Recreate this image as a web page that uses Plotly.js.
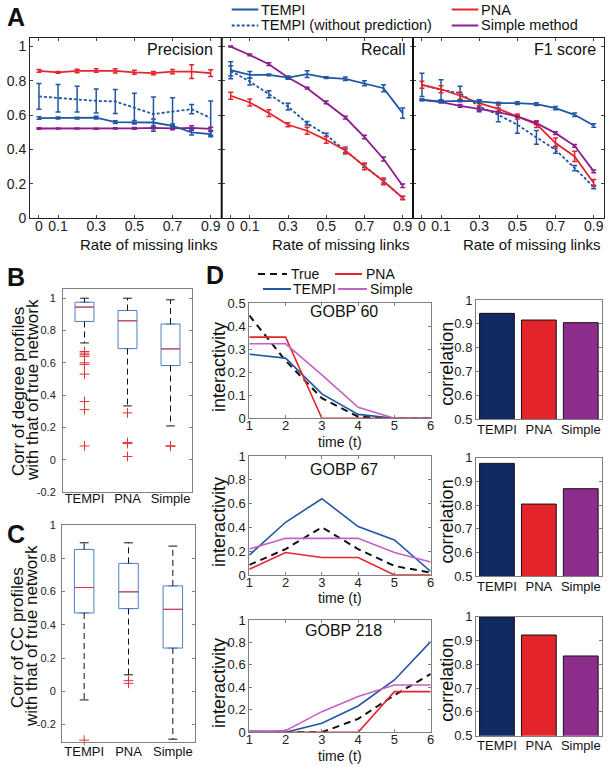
<!DOCTYPE html>
<html>
<head>
<meta charset="utf-8">
<script src="https://cdn.plot.ly/plotly-3.0.1.min.js"></script>
<style>html,body{margin:0;padding:0;background:#fff;}#chart{width:608px;height:767px;}</style>
</head>
<body>
<div id="chart"></div>
<script>
// ---------------- DATA ----------------
const rates = [0, 0.1, 0.2, 0.3, 0.4, 0.5, 0.6, 0.7, 0.8, 0.9];
const rateTickVals = [0, 0.1, 0.3, 0.5, 0.7, 0.9];
const rateTickText = ['0', '0.1', '0.3', '0.5', '0.7', '0.9'];

const precTEMPI = [0.583, 0.583, 0.583, 0.586, 0.559, 0.559, 0.557, 0.538, 0.499, 0.489];
const precTEMPIerr = [0.007, 0.006, 0.005, 0.008, 0.008, 0.01, 0.02, 0.01, 0.015, 0.015];
const precNoPred = [0.709, 0.699, 0.693, 0.683, 0.680, 0.641, 0.606, 0.621, 0.635, 0.583];
const precNoPredErr = [0.075, 0.08, 0.075, 0.07, 0.07, 0.087, 0.1, 0.08, 0.027, 0.1];
const precPNA = [0.858, 0.849, 0.858, 0.860, 0.858, 0.850, 0.845, 0.854, 0.854, 0.845];
const precPNAerr = [0.008, 0.005, 0.01, 0.01, 0.012, 0.012, 0.01, 0.012, 0.04, 0.02];
const precSimple = [0.522, 0.522, 0.522, 0.520, 0.523, 0.523, 0.526, 0.523, 0.526, 0.520];
const precSimpleErr = [0.004, 0.003, 0.003, 0.003, 0.004, 0.005, 0.006, 0.008, 0.012, 0.01];

const recTEMPI = [0.862, 0.835, 0.835, 0.819, 0.839, 0.819, 0.812, 0.786, 0.757, 0.612];
const recTEMPIerr = [0.05, 0.02, 0.005, 0.01, 0.02, 0.005, 0.01, 0.015, 0.02, 0.03];
const recNoPred = [0.858, 0.796, 0.722, 0.650, 0.553, 0.485, 0.392, 0.305, 0.214, 0.117];
const recNoPredErr = [0.03, 0.02, 0.02, 0.02, 0.01, 0.01, 0.01, 0.01, 0.01, 0.008];
const recPNA = [0.713, 0.674, 0.612, 0.544, 0.509, 0.456, 0.394, 0.301, 0.214, 0.117];
const recPNAerr = [0.02, 0.02, 0.02, 0.012, 0.02, 0.02, 0.02, 0.02, 0.02, 0.01];
const recSimple = [1.0, 0.951, 0.897, 0.819, 0.757, 0.674, 0.586, 0.472, 0.344, 0.188];
const recSimpleErr = [0.003, 0.005, 0.008, 0.005, 0.005, 0.008, 0.008, 0.01, 0.012, 0.01];

const f1TEMPI = [0.689, 0.680, 0.683, 0.680, 0.670, 0.670, 0.664, 0.641, 0.602, 0.540];
const f1TEMPIerr = [0.005, 0.005, 0.005, 0.01, 0.005, 0.008, 0.008, 0.01, 0.01, 0.01];
const f1NoPred = [0.777, 0.748, 0.728, 0.650, 0.602, 0.544, 0.470, 0.398, 0.291, 0.181];
const f1NoPredErr = [0.068, 0.058, 0.04, 0.03, 0.04, 0.05, 0.04, 0.02, 0.015, 0.01];
const f1PNA = [0.777, 0.751, 0.713, 0.670, 0.637, 0.592, 0.548, 0.437, 0.359, 0.204];
const f1PNAerr = [0.02, 0.02, 0.02, 0.015, 0.02, 0.015, 0.02, 0.03, 0.03, 0.02];
const f1Simple = [0.689, 0.676, 0.654, 0.637, 0.617, 0.592, 0.553, 0.495, 0.421, 0.272];
const f1SimpleErr = [0.003, 0.005, 0.008, 0.008, 0.005, 0.005, 0.008, 0.008, 0.008, 0.008];

const boxCats = ['TEMPI', 'PNA', 'Simple'];
const degQ1 = [0.856, 0.688, 0.583];
const degMed = [0.945, 0.860, 0.686];
const degQ3 = [0.975, 0.924, 0.840];
const degLo = [0.723, 0.333, 0.209];
const degHi = [1.0, 1.0, 0.99];
const degOutTEMPI = [0.67, 0.66, 0.65, 0.64, 0.60, 0.59, 0.53, 0.36, 0.31, 0.085];
const degOutPNA = [0.29, 0.107, 0.10, 0.02];
const degOutSimple = [0.086, 0.083];

const ccQ1 = [0.471, 0.497, 0.260];
const ccMed = [0.624, 0.598, 0.493];
const ccQ3 = [0.853, 0.769, 0.634];
const ccLo = [-0.052, 0.099, -0.288];
const ccHi = [0.893, 0.893, 0.873];
const ccOutTEMPI = [-0.294];
const ccOutPNA = [0.064, 0.048];
const ccOutSimple = [];

const time = [1, 2, 3, 4, 5, 6];
const g60True = [0.446, 0.25, 0.087, 0.007, 0, 0];
const g60TEMPI = [0.278, 0.261, 0.106, 0.017, 0, 0];
const g60PNA = [0.352, 0.352, 0, 0, 0, 0];
const g60Simple = [0.323, 0.323, 0.188, 0.048, 0, 0];
const g67True = [0.085, 0.218, 0.401, 0.218, 0.076, 0.02];
const g67TEMPI = [0.167, 0.443, 0.641, 0.407, 0.294, 0.03];
const g67PNA = [0.048, 0.189, 0.147, 0.147, 0, 0];
const g67Simple = [0.218, 0.308, 0.308, 0.308, 0.189, 0.11];
const g218True = [0, 0, 0, 0.12, 0.33, 0.52];
const g218TEMPI = [0.012, 0, 0.08, 0.234, 0.466, 0.807];
const g218PNA = [0, 0, 0, 0, 0.362, 0.362];
const g218Simple = [0.006, 0.015, 0.184, 0.318, 0.421, 0.421];

const barCats = ['TEMPI', 'PNA', 'Simple'];
const corr60 = [0.944, 0.916, 0.905];
const corr67 = [0.976, 0.804, 0.869];
const corr218 = [0.999, 0.923, 0.835];

// ---------------- STYLE ----------------
const W = 608, H = 767;
const FONT = 'Liberation Sans, Arial, Helvetica, sans-serif';
const cBlue = '#1f57a4', cRed = '#e5262d', cPurple = '#8b1d8c', cOrchid = '#c462c4';
const cNavy = '#102a62', cBarRed = '#e3252b', cBarPurple = '#8c2c8b';
const cBox = '#4f7fc0', cOut = '#e0343a';
const dX = (l, r) => [l / W, r / W];
const dY = (t, b) => [1 - b / H, 1 - t / H];
const py = p => 1 - p / H;
const px = p => p / W;

const baseAx = {
  showline: true, mirror: 'ticks', linecolor: '#808080', linewidth: 1,
  ticks: 'inside', ticklen: 3, tickcolor: '#808080', zeroline: false, showgrid: false,
  tickfont: {size: 13, color: '#222', family: FONT}, fixedrange: true
};
const ax = o => Object.assign({}, baseAx, o);

const traces = [];

// ---- Panel A ----
function addMetric(xa, ya, tempi, tempiE, nopred, nopredE, pna, pnaE, simple, simpleE) {
  const mk = (y, e, color, dash) => ({
    type: 'scatter', mode: 'lines', x: rates, y: y, xaxis: xa, yaxis: ya,
    line: {color: color, width: 1.8, dash: dash},
    error_y: {type: 'data', array: e, visible: true, color: color, thickness: 1.5, width: 2.5},
    hoverinfo: 'skip'
  });
  traces.push(mk(nopred, nopredE, cBlue, '3px,2px'));
  traces.push(mk(pna, pnaE, cRed, 'solid'));
  traces.push(mk(simple, simpleE, cPurple, 'solid'));
  traces.push(mk(tempi, tempiE, cBlue, 'solid'));
}
addMetric('x', 'y', precTEMPI, precTEMPIerr, precNoPred, precNoPredErr, precPNA, precPNAerr, precSimple, precSimpleErr);
addMetric('x2', 'y2', recTEMPI, recTEMPIerr, recNoPred, recNoPredErr, recPNA, recPNAerr, recSimple, recSimpleErr);
addMetric('x3', 'y3', f1TEMPI, f1TEMPIerr, f1NoPred, f1NoPredErr, f1PNA, f1PNAerr, f1Simple, f1SimpleErr);

// ---- Panels B & C (box plots) ----
function addBox(xa, ya, q1, med, q3, lo, hi, outs) {
  const pos = boxCats.map((c, i) => i + 1);
  const hw = 0.22, cap = 0.1;
  traces.push({
    type: 'box', x: pos, q1: q1, median: med, q3: q3, lowerfence: q1, upperfence: q3,
    width: 2 * hw, line: {color: cBox, width: 1}, fillcolor: 'rgba(0,0,0,0)',
    xaxis: xa, yaxis: ya, hoverinfo: 'skip', boxpoints: false
  });
  const wx = [], wy = [], cx = [], cy = [], mx = [], my = [];
  pos.forEach((p, i) => {
    wx.push(p, p, null, p, p, null); wy.push(q3[i], hi[i], null, q1[i], lo[i], null);
    cx.push(p - cap, p + cap, null, p - cap, p + cap, null); cy.push(hi[i], hi[i], null, lo[i], lo[i], null);
    mx.push(p - hw, p + hw, null); my.push(med[i], med[i], null);
  });
  traces.push({type: 'scatter', mode: 'lines', x: wx, y: wy, xaxis: xa, yaxis: ya,
    line: {color: '#111', width: 1, dash: '6px,4px'}, hoverinfo: 'skip'});
  traces.push({type: 'scatter', mode: 'lines', x: cx, y: cy, xaxis: xa, yaxis: ya,
    line: {color: '#111', width: 1}, hoverinfo: 'skip'});
  traces.push({type: 'scatter', mode: 'lines', x: mx, y: my, xaxis: xa, yaxis: ya,
    line: {color: cOut, width: 1}, hoverinfo: 'skip'});
  const ox = [], oy = [];
  outs.forEach((arr, i) => arr.forEach(v => { ox.push(pos[i]); oy.push(v); }));
  traces.push({type: 'scatter', mode: 'markers', x: ox, y: oy, xaxis: xa, yaxis: ya, cliponaxis: false,
    marker: {symbol: 'cross-thin-open', size: 7, color: cOut, line: {color: cOut, width: 1}}, hoverinfo: 'skip'});
}
addBox('x4', 'y4', degQ1, degMed, degQ3, degLo, degHi, [degOutTEMPI, degOutPNA, degOutSimple]);
addBox('x5', 'y5', ccQ1, ccMed, ccQ3, ccLo, ccHi, [ccOutTEMPI, ccOutPNA, ccOutSimple]);

// ---- Panel D lines ----
function addLines(xa, ya, tr, te, pn, si) {
  const mk = (y, color, dash, w) => ({type: 'scatter', mode: 'lines', x: time, y: y, xaxis: xa, yaxis: ya,
    line: {color: color, width: w, dash: dash}, hoverinfo: 'skip', cliponaxis: false});
  traces.push(mk(tr, '#111', '7px,5px', 2));
  traces.push(mk(te, cBlue, 'solid', 1.6));
  traces.push(mk(pn, cRed, 'solid', 1.6));
  traces.push(mk(si, cOrchid, 'solid', 1.6));
}
addLines('x6', 'y6', g60True, g60TEMPI, g60PNA, g60Simple);
addLines('x7', 'y7', g67True, g67TEMPI, g67PNA, g67Simple);
addLines('x8', 'y8', g218True, g218TEMPI, g218PNA, g218Simple);

// ---- Panel D bars ----
function addBars(xa, ya, vals) {
  traces.push({type: 'bar', x: barCats, y: vals, xaxis: xa, yaxis: ya, width: 0.83,
    marker: {color: [cNavy, cBarRed, cBarPurple], line: {color: '#111', width: 1}}, hoverinfo: 'skip'});
}
addBars('x9', 'y9', corr60);
addBars('x10', 'y10', corr67);
addBars('x11', 'y11', corr218);

// ---------------- LAYOUT ----------------
const aTickY = [0, 0.2, 0.4, 0.6, 0.8, 1];
const aTickYText = ['0', '0.2', '0.4', '0.6', '0.8', '1'];
const axA = o => ax(Object.assign({linecolor: '#222', tickcolor: '#444', tickfont: {size: 14, color: '#222', family: FONT}}, o));
const AY = dY(38, 218);
const boxYTicks = [-0.2, 0, 0.2, 0.4, 0.6, 0.8, 1];
const boxYText = ['-0.2', '0', '0.2', '0.4', '0.6', '0.8', '1'];
const barYTicks = [0.5, 0.6, 0.7, 0.8, 0.9, 1];
const barYText = ['0.5', '0.6', '0.7', '0.8', '0.9', '1'];
const catFont = {size: 13, color: '#111', family: FONT};

const layout = {
  width: W, height: H, margin: {l: 0, r: 0, t: 0, b: 0},
  paper_bgcolor: '#fff', plot_bgcolor: 'rgba(0,0,0,0)', showlegend: false,
  font: {family: FONT, color: '#222'},
  xaxis: axA({domain: dX(30, 221), range: [-0.047, 0.954], tickvals: rateTickVals, ticktext: rateTickText, anchor: 'y', ticklabelstandoff: -5}),
  yaxis: axA({domain: AY, range: [0, 1.05], tickvals: aTickY, ticktext: aTickYText, anchor: 'x'}),
  xaxis2: axA({domain: dX(221.7, 413), range: [-0.047, 0.954], tickvals: rateTickVals, ticktext: rateTickText, anchor: 'y2', ticklabelstandoff: -5}),
  yaxis2: axA({domain: AY, range: [0, 1.05], tickvals: aTickY, showticklabels: false, anchor: 'x2'}),
  xaxis3: axA({domain: dX(413, 604), range: [-0.047, 0.954], tickvals: rateTickVals, ticktext: rateTickText, anchor: 'y3', ticklabelstandoff: -5}),
  yaxis3: axA({domain: AY, range: [0, 1.05], tickvals: aTickY, showticklabels: false, anchor: 'x3'}),

  xaxis4: ax({domain: dX(63, 192), range: [0.5, 3.5], tickvals: [1, 2, 3], ticktext: boxCats, ticks: '', anchor: 'y4',
    tickfont: catFont, ticklabelstandoff: -6}),
  yaxis4: ax({domain: dY(289, 492), range: [-0.2, 1.057], tickvals: boxYTicks, ticktext: boxYText, anchor: 'x4',
    tickfont: {size: 11, color: '#222', family: FONT}, ticklabelstandoff: 4}),
  xaxis5: ax({domain: dX(62, 195), range: [0.5, 3.5], tickvals: [1, 2, 3], ticktext: boxCats, ticks: '', anchor: 'y5',
    tickfont: catFont, ticklabelstandoff: -3}),
  yaxis5: ax({domain: dY(525, 742), range: [-0.305, 1.0], tickvals: boxYTicks, ticktext: boxYText, anchor: 'x5',
    tickfont: {size: 11, color: '#222', family: FONT}, ticklabelstandoff: 3}),

  xaxis6: ax({domain: dX(249.3, 430.7), range: [1, 6], tickvals: time, anchor: 'y6', ticklabelstandoff: -5}),
  yaxis6: ax({domain: dY(303, 418.3), range: [0, 0.5], tickvals: [0, 0.1, 0.2, 0.3, 0.4, 0.5],
    ticktext: ['0', '0.1', '0.2', '0.3', '0.4', '0.5'], anchor: 'x6'}),
  xaxis7: ax({domain: dX(249.3, 430.7), range: [1, 6], tickvals: time, anchor: 'y7', ticklabelstandoff: -5}),
  yaxis7: ax({domain: dY(456, 575), range: [0, 1], tickvals: aTickY, ticktext: aTickYText, anchor: 'x7'}),
  xaxis8: ax({domain: dX(249.3, 430.7), range: [1, 6], tickvals: time, anchor: 'y8', ticklabelstandoff: -5}),
  yaxis8: ax({domain: dY(620, 732.3), range: [0, 1], tickvals: aTickY, ticktext: aTickYText, anchor: 'x8'}),

  xaxis9: ax({domain: dX(476, 601.7), type: 'category', range: [-0.5, 2.5], ticks: '', anchor: 'y9', tickfont: catFont, ticklabelstandoff: -2}),
  yaxis9: ax({domain: dY(300, 419.3), range: [0.5, 1], tickvals: barYTicks, ticktext: barYText, anchor: 'x9'}),
  xaxis10: ax({domain: dX(476, 601.7), type: 'category', range: [-0.5, 2.5], ticks: '', anchor: 'y10', tickfont: catFont, ticklabelstandoff: -2}),
  yaxis10: ax({domain: dY(457.7, 576), range: [0.5, 1], tickvals: barYTicks, ticktext: barYText, anchor: 'x10'}),
  xaxis11: ax({domain: dX(476, 601.7), type: 'category', range: [-0.5, 2.5], ticks: '', anchor: 'y11', tickfont: catFont, ticklabelstandoff: -2}),
  yaxis11: ax({domain: dY(616.7, 735.7), range: [0.5, 1], tickvals: barYTicks, ticktext: barYText, anchor: 'x11'}),
  shapes: [], annotations: []
};

// Legend line samples (decoration)
function legLine(x0, x1, y, color, dash, w) {
  layout.shapes.push({type: 'line', xref: 'paper', yref: 'paper', x0: px(x0), x1: px(x1), y0: py(y), y1: py(y),
    line: {color: color, width: w || 2, dash: dash || 'solid'}});
}
function txt(text, x, y, size, opts) {
  layout.annotations.push(Object.assign({text: text, xref: 'paper', yref: 'paper', x: px(x), y: py(y),
    showarrow: false, xanchor: 'left', yanchor: 'middle', font: {size: size, color: '#111', family: FONT}}, opts || {}));
}
// dividers between panel A subplots
layout.shapes.push({type: 'line', xref: 'paper', yref: 'paper', x0: px(221.7), x1: px(221.7), y0: py(38), y1: py(218), line: {color: '#111', width: 2}});
layout.shapes.push({type: 'line', xref: 'paper', yref: 'paper', x0: px(413), x1: px(413), y0: py(38), y1: py(218), line: {color: '#111', width: 2}});

legLine(231.7, 258.3, 9.5, cBlue);
legLine(231.7, 258.3, 25.5, cBlue, '3px,2px');
legLine(451.7, 478.3, 9.5, cRed);
legLine(451.7, 478.3, 25.5, cPurple);
txt('TEMPI', 260, 9.5, 14.5, {borderpad: 0});
txt('TEMPI (without prediction)', 260, 25.5, 14.5, {borderpad: 0});
txt('PNA', 480, 9.5, 14.5, {borderpad: 0});
txt('Simple method', 480, 25.5, 14.5, {borderpad: 0});

legLine(258, 287, 274, '#111', '7px,5px');
legLine(335, 362, 274, cRed);
legLine(263, 291, 289, cBlue);
legLine(338, 367, 289, cOrchid);
txt('True', 289, 274, 14);
txt('PNA', 364, 274, 14);
txt('TEMPI', 291, 289, 14);
txt('Simple', 368, 289, 14);

// panel letters
txt('<b>A</b>', 16, 17, 25, {xanchor: 'center'});
txt('<b>B</b>', 16, 277, 25, {xanchor: 'center'});
txt('<b>C</b>', 16, 534, 25, {xanchor: 'center'});
txt('<b>D</b>', 215, 275, 25, {xanchor: 'center'});

// Panel A subplot titles and x titles
[['x', 'Precision'], ['x2', 'Recall'], ['x3', 'F1 score']].forEach(([xa, t]) => {
  layout.annotations.push({text: t, xref: xa + ' domain', yref: 'paper', x: 1, y: py(50), xanchor: 'right', yanchor: 'middle',
    xshift: -6, showarrow: false, font: {size: 16, color: '#111', family: FONT}});
  layout.annotations.push({text: 'Rate of missing links', xref: xa + ' domain', yref: 'paper', x: 1, y: py(244), xanchor: 'right',
    yanchor: 'middle', xshift: -1, showarrow: false, font: {size: 15, color: '#111', family: FONT}});
});

// B and C y titles
txt('Corr of degree profiles', 18, 392, 17, {xanchor: 'center', textangle: -90});
txt('with that of true network', 32, 390, 17, {xanchor: 'center', textangle: -90});
txt('Corr of CC profiles', 17, 638, 17, {xanchor: 'center', textangle: -90});
txt('with that of true network', 31, 636, 17, {xanchor: 'center', textangle: -90});

// D titles
[['x6', 'GOBP 60', 311.7, 367, 441.7, 364], ['x7', 'GOBP 67', 469.3, 522, 598, 521.7], ['x8', 'GOBP 218', 630, 683, 755.5, 680]].forEach(([xa, t, ty, iy, tly, cy]) => {
  layout.annotations.push({text: t, xref: xa + ' domain', yref: 'paper', x: 0.52, y: py(ty), xanchor: 'center', yanchor: 'middle',
    showarrow: false, font: {size: 16, color: '#111', family: FONT}});
  txt('interactivity', 219, iy, 18, {xanchor: 'center', textangle: -90});
  txt('time (t)', 340, tly, 14, {xanchor: 'center'});
  txt('correlation', 446.7, cy, 18, {xanchor: 'center', textangle: -90});
});

Plotly.newPlot('chart', traces, layout, {staticPlot: true, displayModeBar: false});
</script>
</body>
</html>
